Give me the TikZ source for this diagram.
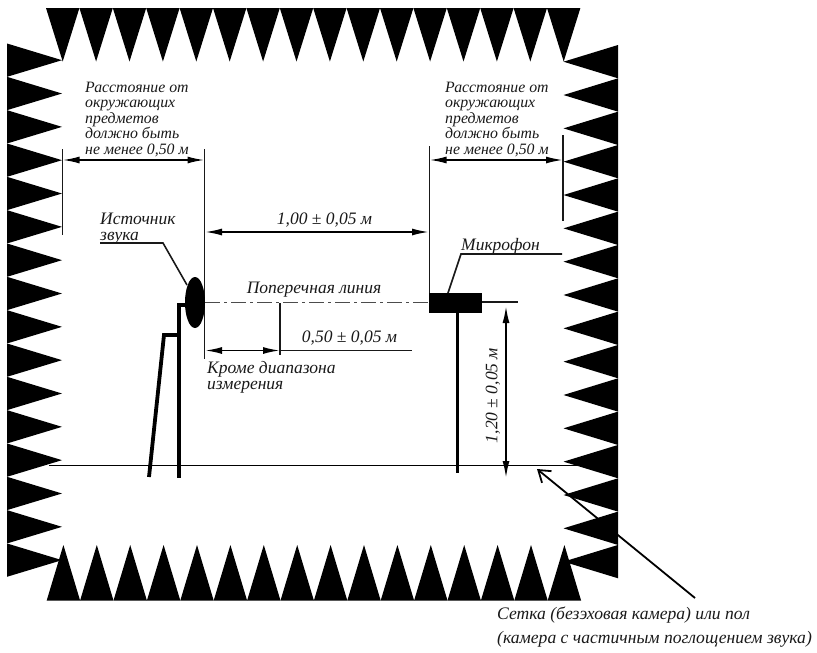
\documentclass[tikz,border=0pt]{standalone}
\usepackage{fontspec}
\setmainfont{Liberation Serif}
\usetikzlibrary{arrows.meta,shapes.geometric}
\tikzset{
  wedge/.style={fill=black,draw=none},
  thinline/.style={line width=1.6pt,draw=black!90},
  thickline/.style={line width=3.8pt,draw=black,line cap=butt},
  dim/.style={line width=1.8pt,draw=black,{Latex[length=17pt,width=7pt]}-{Latex[length=17pt,width=7pt]}},
  lbl/.style={font=\itshape\fontsize{15.8}{15.6}\selectfont,inner sep=0pt,align=left,text=black!90},
  lblbig/.style={lbl,font=\itshape\fontsize{17.5}{16}\selectfont},
}
\begin{document}
\begin{tikzpicture}[x=1pt,y=-1pt]
\useasboundingbox (0,0) rectangle (817,653);
% absorbing wedges
\foreach \i in {0,...,15}{
  \fill[wedge] ({46+33.4*\i},8) -- ({79.4+33.4*\i},8) -- ({62.7+33.4*\i},61.5) -- cycle;
  \fill[wedge] ({46.7+33.4*\i},600.5) -- ({80.1+33.4*\i},600.5) -- ({63.4+33.4*\i},545) -- cycle;
  \fill[wedge] (7,{43.5+33.33*\i}) -- (7,{76.83+33.33*\i}) -- (62,{60.2+33.33*\i}) -- cycle;
  \fill[wedge] (618,{45+33.33*\i}) -- (618,{78.33+33.33*\i}) -- (563.5,{61.7+33.33*\i}) -- cycle;
}
% key coordinates
\coordinate (wallL) at (62.5,160);
\coordinate (srcPlane) at (204.5,160);
\coordinate (micPlane) at (429.5,160);
\coordinate (wallR) at (563,160);
% extension lines
\draw[thinline] (62.5,149) -- (62.5,235);
\draw[thinline] (204.5,149) -- (204.5,359);
\draw[thinline] (429.5,146) -- (429.5,295);
\draw[thinline] (563,135) -- (563,221);
% dimension arrows
\draw[dim] (wallL) -- (srcPlane);
\draw[dim] (micPlane) -- (wallR);
\coordinate (a1) at (205,232);
\coordinate (a2) at (429,232);
\draw[dim] (a1) -- (a2);
\coordinate (b1) at (205,350.5);
\coordinate (b2) at (280,350.5);
\coordinate (b3) at (412,350.5);
\draw[dim] (b1) -- (b2);
\draw[thinline] (b2) -- (b3);
\draw[thinline] (280,303) -- (280,355);
\coordinate (c1) at (506,306);
\coordinate (c2) at (506,478);
\draw[dim] (c1) -- (c2);
% floor
\coordinate (floorL) at (49,465.5);
\coordinate (floorR) at (580,465.5);
\draw[line width=1.6pt] (floorL) -- (floorR);
% source
\node[ellipse,fill=black,minimum width=20pt,minimum height=51pt,inner sep=0pt] (src) at (195,302.5) {};
\draw[thickline] (187,305) -- (179,305) -- (179,478);
\draw[thickline] (179,335) -- (164,335) -- (149,477);
\draw[thinline] (100,243) -- (163,243) -- (187,285);
% axis
\draw[line width=1.6pt,draw=black!70,dash pattern=on 15pt off 4pt on 3pt off 4pt] (205,302.5) -- (429,302.5);
% microphone
\node[fill=black,minimum width=53pt,minimum height=20pt,inner sep=0pt] (mic) at (455.5,303) {};
\draw[line width=3pt] (457,303) -- (457,473);
\draw[thinline] (mic.east |- 0,302) -- (518,302);
\draw[thinline] (448,293) -- (461,254) -- (562,254);
% floor pointer
\coordinate (ptrEnd) at (695,598);
\coordinate (ptrTip) at (537,469);
\draw[line width=1.8pt,-{Straight Barb[length=11pt,width=15pt]}] (ptrEnd) -- (ptrTip);
% labels
\node[lbl,anchor=north west] (t1) at (85,81.5) {Расстояние от\\окружающих\\предметов\\должно быть\\не менее 0,50 м};
\node[lbl,anchor=north west] (t2) at (445,81.5) {Расстояние от\\окружающих\\предметов\\должно быть\\не менее 0,50 м};
\node[lblbig,anchor=north west] (t3) at (100,212.5) {Источник\\звука};
\node[lblbig,anchor=center] (t4) at (324.5,220) {1,00 ± 0,05 м};
\node[lblbig,anchor=center] (t5) at (314,289.5) {Поперечная линия};
\node[lblbig,anchor=center] (t6) at (349.5,338.5) {0,50 ± 0,05 м};
\node[lblbig,anchor=north west] (t7) at (207,361.5) {Кроме диапазона\\измерения};
\node[lblbig,anchor=west] (t8) at (461,246) {Микрофон};
\node[lblbig,anchor=center,rotate=90] (t9) at (493,395.5) {1,20 ± 0,05 м};
\node[lblbig,anchor=north west,font=\itshape\fontsize{17.6}{24}\selectfont] (t10) at (497,607) {Сетка (безэховая камера) или пол\\(камера с частичным поглощением звука)};
\end{tikzpicture}
\end{document}
